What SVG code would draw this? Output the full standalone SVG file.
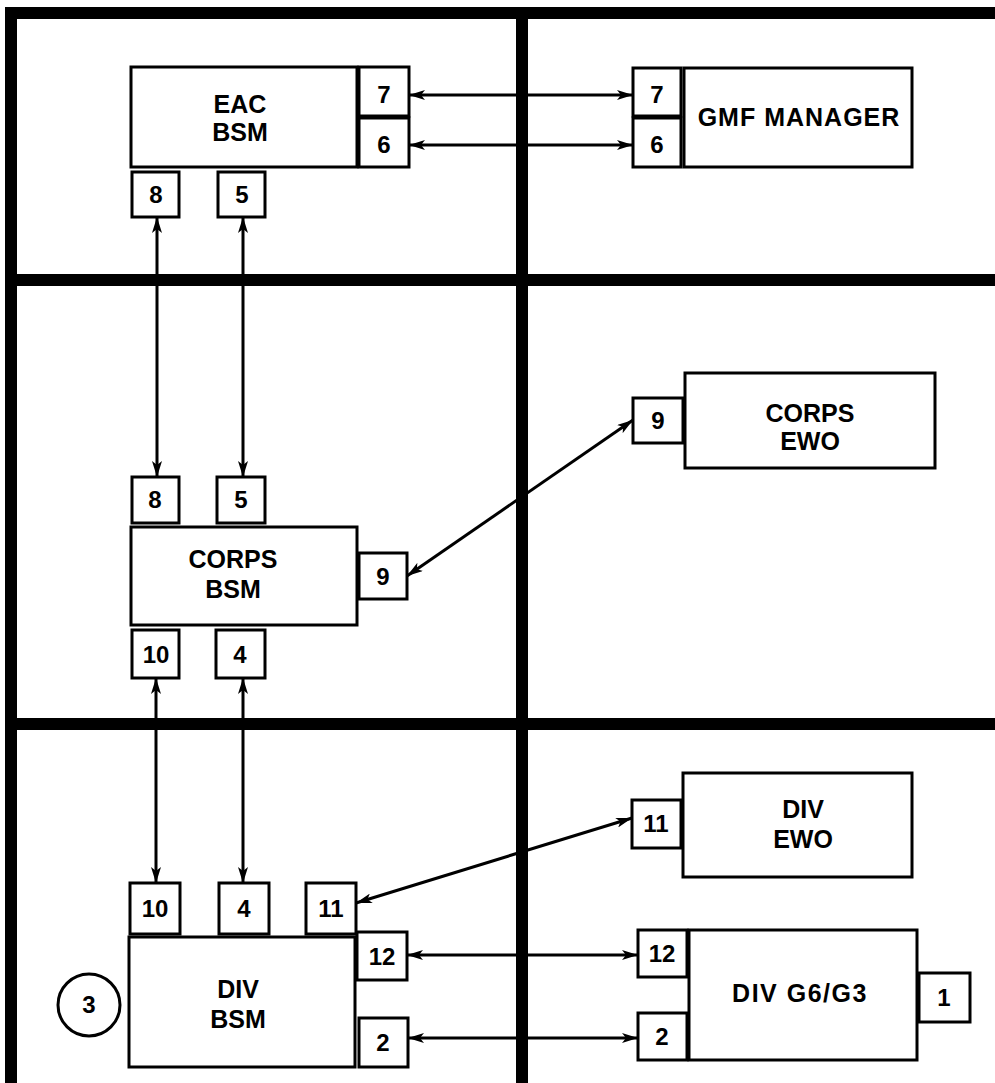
<svg xmlns="http://www.w3.org/2000/svg" width="995" height="1083" viewBox="0 0 995 1083">
<style>
.grid{stroke:#000;stroke-width:12;fill:none}
.box{fill:#fff;stroke:#000;stroke-width:3}
.lbl{font-family:"Liberation Sans",Arial,sans-serif;font-weight:bold;font-size:25px;text-anchor:middle;fill:#000}
.num{font-family:"Liberation Sans",Arial,sans-serif;font-weight:bold;font-size:24px;text-anchor:middle;fill:#000}
.conn{stroke:#000;stroke-width:3;fill:none;marker-start:url(#ah);marker-end:url(#ah)}
</style>
<defs>
<marker id="ah" viewBox="0 0 16 10" refX="16" refY="5" markerWidth="16" markerHeight="10" markerUnits="userSpaceOnUse" orient="auto-start-reverse">
<path d="M0,0 L16,5 L0,10 L4,5 Z" fill="#000"/>
</marker>
</defs>
<rect width="995" height="1083" fill="#fff"/>
<g id="grid" class="grid">
<line x1="5" y1="13" x2="995" y2="13"/>
<line x1="5" y1="280" x2="995" y2="280"/>
<line x1="5" y1="724" x2="995" y2="724"/>
<line x1="11" y1="7" x2="11" y2="1083"/>
<line x1="522" y1="7" x2="522" y2="1083"/>
</g>
<g id="connectors">
<line class="conn" x1="157" y1="217" x2="157" y2="477"/>
<line class="conn" x1="243" y1="217" x2="243" y2="477"/>
<line class="conn" x1="156" y1="678" x2="156" y2="883"/>
<line class="conn" x1="243" y1="678" x2="243" y2="883"/>
<line class="conn" x1="409" y1="95" x2="633" y2="95"/>
<line class="conn" x1="409" y1="145" x2="633" y2="145"/>
<line class="conn" x1="407" y1="576" x2="633" y2="420"/>
<line class="conn" x1="356" y1="903" x2="632" y2="818"/>
<line class="conn" x1="407" y1="955" x2="638" y2="955"/>
<line class="conn" x1="408" y1="1038" x2="638" y2="1038"/>
</g>
<g id="eac-bsm">
<rect class="box" x="131" y="67" width="226" height="100"/>
<text class="lbl" x="240" y="113">EAC</text>
<text class="lbl" x="240" y="141">BSM</text>
<g id="eac-port-7"><rect class="box" x="359" y="67" width="50" height="49"/><text class="num" x="384" y="103">7</text></g>
<g id="eac-port-6"><rect class="box" x="359" y="118" width="50" height="49"/><text class="num" x="384" y="153">6</text></g>
<g id="eac-port-8"><rect class="box" x="132" y="172" width="47" height="45"/><text class="num" x="156" y="203">8</text></g>
<g id="eac-port-5"><rect class="box" x="218" y="172" width="47" height="45"/><text class="num" x="242" y="203">5</text></g>
</g>
<g id="gmf-manager">
<rect class="box" x="684" y="68" width="228" height="99"/>
<text class="lbl" x="799" y="126" style="letter-spacing:1px">GMF MANAGER</text>
<g id="gmf-port-7"><rect class="box" x="633" y="68" width="48" height="48"/><text class="num" x="657" y="103">7</text></g>
<g id="gmf-port-6"><rect class="box" x="633" y="118" width="48" height="49"/><text class="num" x="657" y="153">6</text></g>
</g>
<g id="corps-bsm">
<rect class="box" x="131" y="527" width="226" height="98"/>
<text class="lbl" x="233" y="568">CORPS</text>
<text class="lbl" x="233" y="598">BSM</text>
<g id="corps-port-8"><rect class="box" x="132" y="477" width="47" height="46"/><text class="num" x="155" y="508">8</text></g>
<g id="corps-port-5"><rect class="box" x="217" y="477" width="48" height="46"/><text class="num" x="241" y="508">5</text></g>
<g id="corps-port-9"><rect class="box" x="359" y="553" width="48" height="46"/><text class="num" x="383" y="585">9</text></g>
<g id="corps-port-10"><rect class="box" x="132" y="630" width="47" height="48"/><text class="num" x="156" y="663">10</text></g>
<g id="corps-port-4"><rect class="box" x="216" y="630" width="49" height="48"/><text class="num" x="240" y="663">4</text></g>
</g>
<g id="corps-ewo">
<rect class="box" x="685" y="373" width="250" height="95"/>
<text class="lbl" x="810" y="422">CORPS</text>
<text class="lbl" x="810" y="450">EWO</text>
<g id="corps-ewo-port-9"><rect class="box" x="633" y="398" width="50" height="45"/><text class="num" x="658" y="429">9</text></g>
</g>
<g id="div-ewo">
<rect class="box" x="683" y="773" width="229" height="104"/>
<text class="lbl" x="803" y="818">DIV</text>
<text class="lbl" x="803" y="848">EWO</text>
<g id="div-ewo-port-11"><rect class="box" x="632" y="800" width="49" height="48"/><text class="num" x="656" y="832">11</text></g>
</g>
<g id="div-g6g3">
<rect class="box" x="689" y="930" width="228" height="130"/>
<text class="lbl" x="800" y="1002" style="letter-spacing:1.5px">DIV G6/G3</text>
<g id="g6-port-12"><rect class="box" x="638" y="930" width="49" height="47"/><text class="num" x="662" y="962">12</text></g>
<g id="g6-port-2"><rect class="box" x="638" y="1013" width="49" height="47"/><text class="num" x="662" y="1045">2</text></g>
<g id="g6-port-1"><rect class="box" x="919" y="973" width="51" height="49"/><text class="num" x="944" y="1006">1</text></g>
</g>
<g id="div-bsm">
<rect class="box" x="129" y="937" width="226" height="130"/>
<text class="lbl" x="238" y="998">DIV</text>
<text class="lbl" x="238" y="1028">BSM</text>
<g id="div-port-10"><rect class="box" x="130" y="883" width="50" height="51"/><text class="num" x="155" y="917">10</text></g>
<g id="div-port-4"><rect class="box" x="219" y="883" width="50" height="51"/><text class="num" x="244" y="917">4</text></g>
<g id="div-port-11"><rect class="box" x="306" y="883" width="50" height="51"/><text class="num" x="331" y="917">11</text></g>
<g id="div-port-12"><rect class="box" x="357" y="932" width="50" height="48"/><text class="num" x="382" y="965">12</text></g>
<g id="div-port-2"><rect class="box" x="359" y="1018" width="49" height="49"/><text class="num" x="383" y="1051">2</text></g>
</g>
<g id="marker-3">
<circle cx="89" cy="1005" r="31" fill="#fff" stroke="#000" stroke-width="3"/>
<text class="num" x="89" y="1013">3</text>
</g>
</svg>
